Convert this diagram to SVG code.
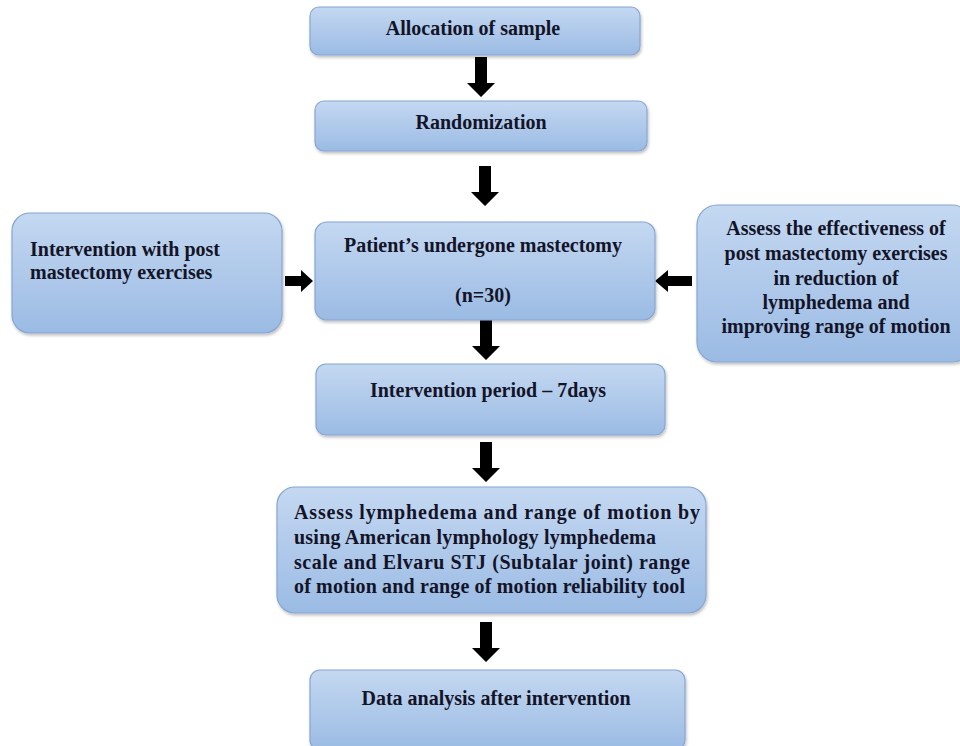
<svg xmlns="http://www.w3.org/2000/svg" width="960" height="746" viewBox="0 0 960 746">
<defs>
<linearGradient id="g" x1="0" y1="0" x2="0" y2="1">
<stop offset="0" stop-color="#c4d8f1"/>
<stop offset="1" stop-color="#9bbbe4"/>
</linearGradient>
<filter id="sh" x="-10%" y="-10%" width="120%" height="130%">
<feDropShadow dx="1" dy="2" stdDeviation="1.5" flood-color="#000" flood-opacity="0.25"/>
</filter>
<path id="down" d="M-6,0 H6 V26 H14 L0,40 L-14,26 H-6 Z"/>
</defs>
<style>
.box{fill:url(#g);stroke:#86a6d2;stroke-width:1.2;filter:url(#sh)}
.t{font-family:"Liberation Serif","Times New Roman",serif;font-weight:bold;font-size:20px;fill:#141428}
.c{text-anchor:middle}
.arr{fill:#000}
</style>
<rect width="960" height="746" fill="#fff"/>
<g id="connectors">
<use href="#down" class="arr" x="481" y="57"/>
<use href="#down" class="arr" x="485" y="166"/>
<use href="#down" class="arr" x="486" y="320"/>
<use href="#down" class="arr" x="486" y="442"/>
<use href="#down" class="arr" x="486" y="622"/>
<path class="arr" d="M285,276 H301 V270 L313,281 L301,292 V286 H285 Z"/>
<path class="arr" d="M692,276 H668 V270 L655,281 L668,292 V286 H692 Z"/>
</g>
<g id="n1">
<rect class="box" x="310" y="7" width="330" height="48" rx="9"/>
<text class="t c" x="473" y="35">Allocation of sample</text>
</g>
<g id="n2">
<rect class="box" x="315" y="101" width="332" height="50" rx="9"/>
<text class="t c" x="481" y="129">Randomization</text>
</g>
<g id="n3">
<rect class="box" x="315" y="222" width="340" height="98" rx="12"/>
<text class="t c" x="483" y="252">Patient’s undergone mastectomy</text>
<text class="t c" x="483" y="302">(n=30)</text>
</g>
<g id="n4">
<rect class="box" x="12" y="213" width="270" height="120" rx="18"/>
<text class="t" x="30" y="256">Intervention with post</text>
<text class="t" x="30" y="279">mastectomy exercises</text>
</g>
<g id="n5">
<rect class="box" x="697" y="205" width="275" height="157" rx="20"/>
<text class="t c" x="836" y="235">Assess the effectiveness of</text>
<text class="t c" x="836" y="260">post mastectomy exercises</text>
<text class="t c" x="836" y="285">in reduction of</text>
<text class="t c" x="836" y="309">lymphedema and</text>
<text class="t c" x="836" y="333">improving range of motion</text>
</g>
<g id="n6">
<rect class="box" x="316" y="364" width="349" height="71" rx="10"/>
<text class="t c" x="488" y="397">Intervention period – 7days</text>
</g>
<g id="n7">
<rect class="box" x="277" y="487" width="429" height="126" rx="18"/>
<text class="t" x="294" y="519" textLength="406">Assess lymphedema and range of motion by</text>
<text class="t" x="294" y="544" textLength="362">using American lymphology lymphedema</text>
<text class="t" x="294" y="569" textLength="396">scale and Elvaru STJ (Subtalar joint) range</text>
<text class="t" x="294" y="593" textLength="391">of motion and range of motion reliability tool</text>
</g>
<g id="n8">
<rect class="box" x="310" y="670" width="375" height="80" rx="10"/>
<text class="t c" x="496" y="705">Data analysis after intervention</text>
</g>
</svg>
